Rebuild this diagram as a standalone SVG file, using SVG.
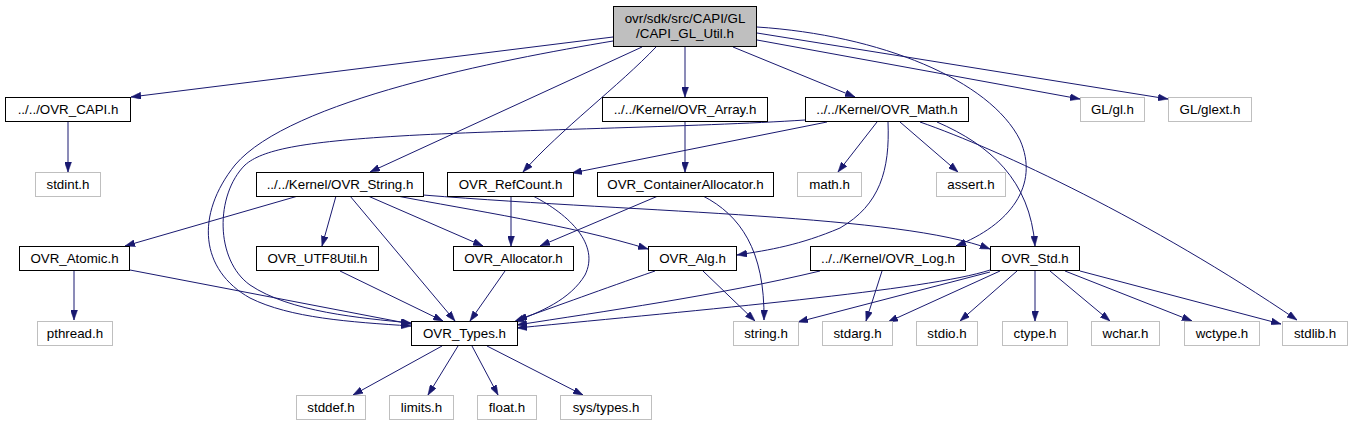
<svg xmlns="http://www.w3.org/2000/svg" width="1352" height="427" viewBox="0 0 1352 427">
<style>
.n rect{fill:#ffffff;stroke:#000000;stroke-width:1}
.u rect{fill:#ffffff;stroke:#bfbfbf;stroke-width:1}
.r rect{fill:#bfbfbf;stroke:#000000;stroke-width:1}
text{font-family:"Liberation Sans",Arial,Helvetica,sans-serif;font-size:13.33px;fill:#000000;text-anchor:middle}
#edges path{fill:none;stroke:#191970;stroke-width:1;marker-end:url(#arr)}
</style>
<defs>
<marker id="arr" viewBox="0 0 10 7" refX="10" refY="3.5" markerWidth="10" markerHeight="7" orient="auto" markerUnits="userSpaceOnUse">
<path d="M0,0 L10,3.5 L0,7 z" fill="#191970" stroke="#191970" stroke-width="0.5"/>
</marker>
</defs>
<rect width="1352" height="427" fill="#ffffff"/>
<g id="edges">
<path d="M613,37 L131,97"/>
<path d="M613,41 C500,60 290,100 235,165 C195,215 200,270 250,298 C290,318 350,322 411,326"/>
<path d="M805,120 C700,127 500,130 400,136 C300,142 262,150 245,165 C215,195 215,260 250,285 C290,312 360,318 411,323"/>
<path d="M642,47 L370,172"/>
<path d="M656,47 C620,85 560,130 523,172"/>
<path d="M685,47 L685,97"/>
<path d="M733,47 L855,97"/>
<path d="M757,40 L1080,99"/>
<path d="M757,33 L1168,99"/>
<path d="M757,27 C880,35 990,80 1020,140 C1040,185 1010,225 956,246"/>
<path d="M68,122 L68,172"/>
<path d="M298,196 L125,246"/>
<path d="M336,196 L322,246"/>
<path d="M350,196 L455,321"/>
<path d="M368,196 L483,246"/>
<path d="M397,196 C470,210 570,225 648,249"/>
<path d="M423,195 C650,213 900,215 990,249"/>
<path d="M511,196 L511,246"/>
<path d="M533,196 C570,215 600,245 585,275 C570,300 540,312 514,322"/>
<path d="M685,122 L685,172"/>
<path d="M658,196 L540,246"/>
<path d="M703,196 C740,215 765,250 764,320"/>
<path d="M827,122 L572,173"/>
<path d="M877,122 L838,172"/>
<path d="M900,122 L958,172"/>
<path d="M888,122 C890,170 880,205 840,228 C800,245 770,250 737,255"/>
<path d="M937,122 C990,145 1030,180 1035,246"/>
<path d="M920,122 C1000,150 1150,220 1297,320"/>
<path d="M74,271 L74,320"/>
<path d="M130,270 L411,324"/>
<path d="M340,271 L443,321"/>
<path d="M505,271 L470,321"/>
<path d="M655,271 C600,290 560,305 517,320"/>
<path d="M703,271 L755,321"/>
<path d="M820,271 C720,295 600,312 517,325"/>
<path d="M882,271 L866,321"/>
<path d="M990,270 C930,290 700,310 517,328"/>
<path d="M990,272 L798,322"/>
<path d="M1000,271 L888,322"/>
<path d="M1017,271 L960,321"/>
<path d="M1035,271 L1035,321"/>
<path d="M1050,271 L1110,321"/>
<path d="M1065,271 L1192,321"/>
<path d="M1080,271 L1281,324"/>
<path d="M442,346 L353,395"/>
<path d="M458,346 L428,395"/>
<path d="M472,346 L498,395"/>
<path d="M487,346 L583,395"/>
</g>
<g id="root" class="r"><rect x="613.5" y="6.5" width="143" height="40"/><text x="685" y="23">ovr/sdk/src/CAPI/GL</text><text x="685" y="38">/CAPI_GL_Util.h</text></g>
<g id="ovr_capi" class="n"><rect x="5.5" y="97.5" width="125" height="24"/><text x="68" y="113.5">../../OVR_CAPI.h</text></g>
<g id="ovr_array" class="n"><rect x="602.5" y="97.5" width="165" height="24"/><text x="685" y="113.5">../../Kernel/OVR_Array.h</text></g>
<g id="ovr_math" class="n"><rect x="805.5" y="97.5" width="163" height="24"/><text x="887" y="113.5">../../Kernel/OVR_Math.h</text></g>
<g id="gl_gl" class="u"><rect x="1080.5" y="97.5" width="64" height="24"/><text x="1112.5" y="113.5">GL/gl.h</text></g>
<g id="gl_glext" class="u"><rect x="1168.5" y="97.5" width="83" height="24"/><text x="1210" y="113.5">GL/glext.h</text></g>
<g id="stdint" class="u"><rect x="35.5" y="172.5" width="65" height="24"/><text x="68" y="188.5">stdint.h</text></g>
<g id="ovr_string" class="n"><rect x="256.5" y="172.5" width="167" height="24"/><text x="340" y="188.5">../../Kernel/OVR_String.h</text></g>
<g id="ovr_refcount" class="n"><rect x="447.5" y="172.5" width="126" height="24"/><text x="510.5" y="188.5">OVR_RefCount.h</text></g>
<g id="ovr_containerallocator" class="n"><rect x="597.5" y="172.5" width="176" height="24"/><text x="685.5" y="188.5">OVR_ContainerAllocator.h</text></g>
<g id="math_h" class="u"><rect x="797.5" y="172.5" width="64" height="24"/><text x="829.5" y="188.5">math.h</text></g>
<g id="assert_h" class="u"><rect x="936.5" y="172.5" width="69" height="24"/><text x="971" y="188.5">assert.h</text></g>
<g id="ovr_atomic" class="n"><rect x="19.5" y="246.5" width="110" height="24"/><text x="74.5" y="262.5">OVR_Atomic.h</text></g>
<g id="ovr_utf8util" class="n"><rect x="256.5" y="246.5" width="122" height="24"/><text x="317.5" y="262.5">OVR_UTF8Util.h</text></g>
<g id="ovr_allocator" class="n"><rect x="453.5" y="246.5" width="120" height="24"/><text x="513.5" y="262.5">OVR_Allocator.h</text></g>
<g id="ovr_alg" class="n"><rect x="648.5" y="246.5" width="88" height="24"/><text x="692.5" y="262.5">OVR_Alg.h</text></g>
<g id="ovr_log" class="n"><rect x="810.5" y="246.5" width="155" height="24"/><text x="888" y="262.5">../../Kernel/OVR_Log.h</text></g>
<g id="ovr_std" class="n"><rect x="990.5" y="246.5" width="89" height="24"/><text x="1035" y="262.5">OVR_Std.h</text></g>
<g id="pthread_h" class="u"><rect x="37.5" y="321.5" width="75" height="24"/><text x="75" y="337.5">pthread.h</text></g>
<g id="ovr_types" class="n"><rect x="411.5" y="321.5" width="106" height="24"/><text x="464.5" y="337.5">OVR_Types.h</text></g>
<g id="string_h" class="u"><rect x="733.5" y="321.5" width="65" height="24"/><text x="766" y="337.5">string.h</text></g>
<g id="stdarg_h" class="u"><rect x="822.5" y="321.5" width="70" height="24"/><text x="857.5" y="337.5">stdarg.h</text></g>
<g id="stdio_h" class="u"><rect x="916.5" y="321.5" width="61" height="24"/><text x="947" y="337.5">stdio.h</text></g>
<g id="ctype_h" class="u"><rect x="1002.5" y="321.5" width="65" height="24"/><text x="1035" y="337.5">ctype.h</text></g>
<g id="wchar_h" class="u"><rect x="1091.5" y="321.5" width="68" height="24"/><text x="1125.5" y="337.5">wchar.h</text></g>
<g id="wctype_h" class="u"><rect x="1184.5" y="321.5" width="75" height="24"/><text x="1222" y="337.5">wctype.h</text></g>
<g id="stdlib_h" class="u"><rect x="1282.5" y="321.5" width="65" height="24"/><text x="1315" y="337.5">stdlib.h</text></g>
<g id="stddef_h" class="u"><rect x="296.5" y="395.5" width="69" height="24"/><text x="331" y="411.5">stddef.h</text></g>
<g id="limits_h" class="u"><rect x="389.5" y="395.5" width="64" height="24"/><text x="421.5" y="411.5">limits.h</text></g>
<g id="float_h" class="u"><rect x="477.5" y="395.5" width="59" height="24"/><text x="507" y="411.5">float.h</text></g>
<g id="sys_types_h" class="u"><rect x="560.5" y="395.5" width="91" height="24"/><text x="606" y="411.5">sys/types.h</text></g>
</svg>
